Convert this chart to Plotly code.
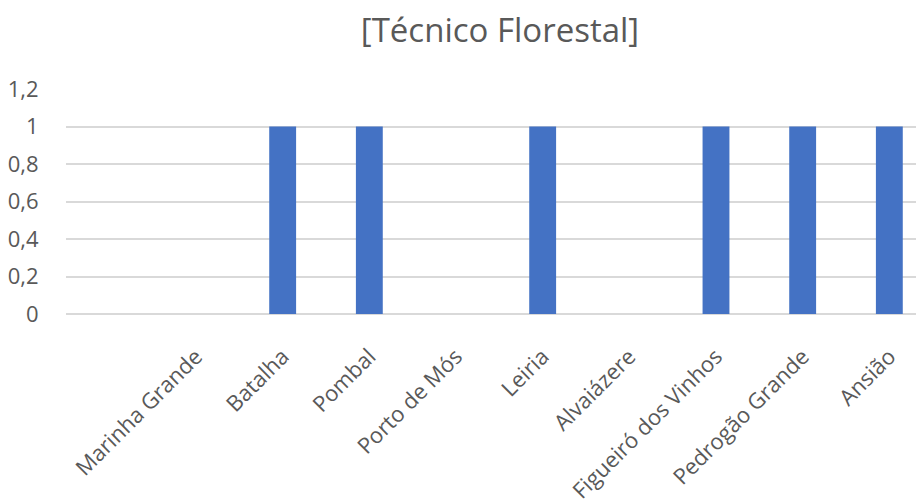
import plotly.graph_objects as go

categories = ["Marinha Grande", "Batalha", "Pombal", "Porto de Mós", "Leiria",
              "Alvaiázere", "Figueiró dos Vinhos", "Pedrogão Grande", "Ansião"]
values = [0, 1, 1, 0, 1, 0, 1, 1, 1]
title_text = "[Técnico Florestal]"

# the page body adds an 8px offset, so the figure is 8px smaller and shifted
W, H = 916, 493

fig = go.Figure(go.Bar(
    x=list(range(len(categories))),
    y=values,
    width=0.31,
    marker=dict(color="#4472C4", line=dict(width=0)),
))

fig.update_layout(
    width=W, height=H,
    margin=dict(l=58, r=0, t=81, b=187, autoexpand=False),
    paper_bgcolor="white", plot_bgcolor="white",
    separators=",.",
    showlegend=False,
    font=dict(family="Open Sans", color="#595959"),
    title=dict(text=title_text, x=492/W, xanchor="center", y=1-22/H, yanchor="middle",
               xref="container", yref="container",
               font=dict(family="Open Sans", size=33, color="#595959")),
)
fig.update_xaxes(
    range=[-1.5, 8.4], automargin=False,
    tickmode="array", tickvals=list(range(len(categories))), ticktext=categories,
    tickangle=-45, tickfont=dict(size=22, color="#595959"),
    ticks="outside", ticklen=20, tickcolor="rgba(0,0,0,0)",
    showgrid=False, zeroline=False, showline=False,
)
fig.update_yaxes(
    range=[0, 1.2001], dtick=0.2, tick0=0, automargin=False,
    tickfont=dict(size=22, color="#595959"),
    ticks="outside", ticklen=22, tickcolor="rgba(0,0,0,0)",
    showgrid=True, gridcolor="#d9d9d9", gridwidth=1.5,
    zeroline=True, zerolinecolor="#d9d9d9", zerolinewidth=1.5,
    showline=False,
)

fig.write_html("out.html")
